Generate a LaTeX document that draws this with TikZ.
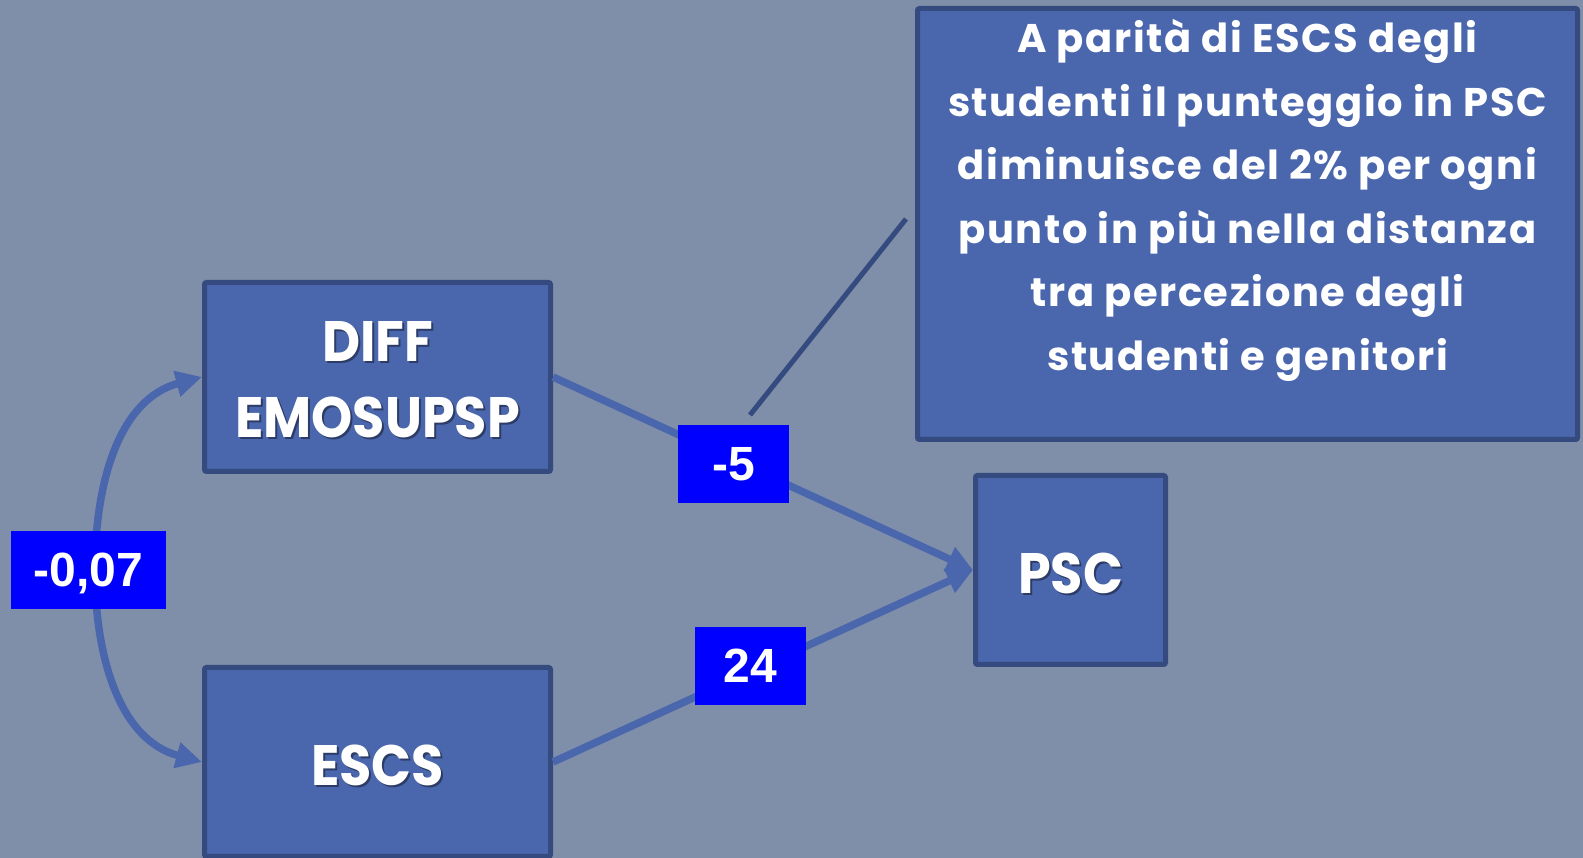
\documentclass[tikz,border=0pt]{standalone}
\usepackage{fontspec}
\setmainfont{Poppins}
\newfontfamily\titlefont[FakeStretch=0.92]{Poppins}
\newfontfamily\notefont[LetterSpace=4]{Poppins}
\newfontfamily\coeffont{Liberation Sans}
\usetikzlibrary{positioning, arrows.meta}
\definecolor{slate}{HTML}{7F8FA9}
\definecolor{boxblue}{HTML}{4A67AE}
\definecolor{boxedge}{HTML}{354A7E}
\definecolor{coefblue}{HTML}{0000FF}
\definecolor{titleshade}{HTML}{2C3C66}
\newcommand{\shadedtitle}[1]{\raisebox{-4pt}[\height][\depth]{\rlap{\kern2pt\raisebox{-2pt}{\color{titleshade}#1}}#1}}

\begin{document}
\begin{tikzpicture}[x=1pt, y=1pt,
  var/.style={draw=boxedge, fill=boxblue, line width=5pt, rounded corners=2pt,
    inner sep=0pt, minimum width=346pt, minimum height=189pt, text=white,
    font=\titlefont\fontsize{57}{76}\selectfont\bfseries, align=center},
  note/.style={draw=boxedge, fill=boxblue, line width=5pt, rounded corners=2pt,
    inner sep=0pt, minimum width=660pt, minimum height=431pt, text=white,
    font=\notefont\fontsize{40}{63.5}\selectfont\bfseries},
  coef/.style={fill=coefblue, text=white, inner sep=0pt, minimum width=111pt,
    minimum height=78pt, text height=34pt, text depth=0pt,
    font=\coeffont\fontsize{48}{48}\selectfont\bfseries},
  link/.style={draw=boxblue, line width=7.5pt, -{Triangle[length=26pt, width=25pt]}},
  callout/.style={draw=boxedge, line width=5pt}
]
  \fill[slate] (0,0) rectangle (1583,858);
  \useasboundingbox (0,0) rectangle (1583,858);

  \node[var] (diff) at (377.5,481) {\shadedtitle{DIFF}\\\shadedtitle{EMOSUPSP}};
  \node[var] (escs) at (377.5,96) {\shadedtitle{ESCS}};
  \node[var, minimum width=190pt] (psc) at (1070.5,288) {\shadedtitle{PSC}};
  \node[note] (note) at (1247.5,634) {\parbox[c][431pt][t]{655pt}{\centering
    \strut A parità di ESCS degli\\
    studenti il punteggio in PSC\\
    diminuisce del 2\% per ogni\\
    punto in più nella distanza\\
    tra percezione degli\\
    studenti e genitori}};

  % paths
  \coordinate (bend) at (95,288);
  \draw[link] (bend) to[out=90, in=195] (diff.west);
  \draw[link] (bend) to[out=270, in=165] (escs.west);
  \draw[link] (diff.east) -- (psc.west);
  \draw[link] (escs.east) -- (psc.west);

  \coordinate (pointer) at (750,443);
  \draw[callout] (pointer) -- ([xshift=-9pt, yshift=5pt]note.west);

  % coefficients
  \node[coef, minimum width=155pt] (r07) at (88.5,288) {-0,07};
  \node[coef] (b5) at (733.5,394) {-5};
  \node[coef] (b24) at (750.5,192) {24};
\end{tikzpicture}
\end{document}
